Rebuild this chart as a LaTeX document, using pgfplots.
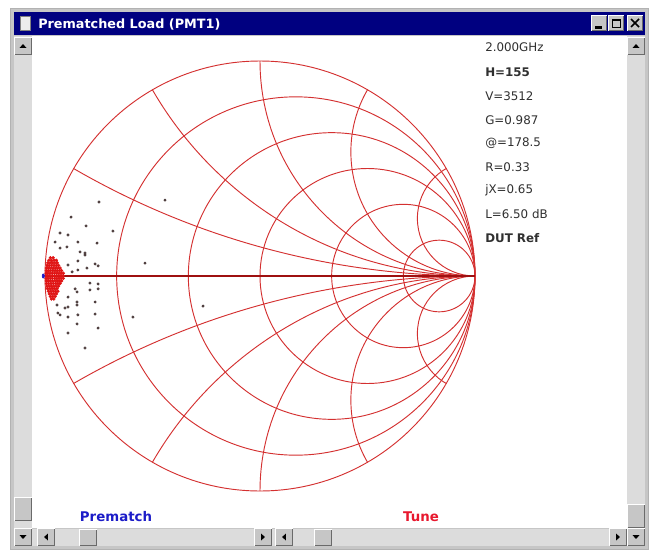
\documentclass[border=0pt]{standalone}
\usepackage{pgfplots}
\pgfplotsset{compat=1.18}
\usepackage{fontspec}
\setmainfont{DejaVu Sans}

\definecolor{titlebar}{HTML}{000080}
\definecolor{gridred}{HTML}{D43030}
\definecolor{axisred}{HTML}{9E1010}
\definecolor{face}{HTML}{C6C6C6}
\definecolor{track}{HTML}{DCDCDC}
\definecolor{shadow}{HTML}{6A6A6A}
\definecolor{dotdark}{HTML}{4A3A3A}
\definecolor{dotred}{HTML}{E01414}
\definecolor{prematch}{HTML}{1C1CC8}
\definecolor{tune}{HTML}{E8182E}
\definecolor{readout}{HTML}{303030}

% raised 3D button, given top-left and bottom-right corners (pixel units, y down)
\newcommand\btnbox[4]{%
  \fill[face] (#1,#2) rectangle (#3,#4);
  \draw[white, line width=0.75pt] (#1+0.5,#4-0.5) -- (#1+0.5,#2+0.5) -- (#3-0.5,#2+0.5);
  \draw[shadow, line width=0.75pt] (#1+0.5,#4-0.5) -- (#3-0.5,#4-0.5) -- (#3-0.5,#2+0.5);}
% scroll arrow button centred at (#1,#2), arrow rotated by #3
\newcommand\arrowbtn[3]{%
  \btnbox{#1-9}{#2-9}{#1+9}{#2+9}
  \begin{scope}[shift={(#1,#2)}, rotate=#3]
    \fill[black] (-3.5,1.8) -- (3.5,1.8) -- (0,-1.8) -- cycle;
  \end{scope}}

\begin{document}
\begin{tikzpicture}[x=0.75pt, y=-0.75pt]
% page and window frame
\fill[white] (0,0) rectangle (657,550);
\fill[face] (10,8) rectangle (648,549);
\draw[gray!60] (10,8) rectangle (648,549);
\fill[titlebar] (14,12) rectangle (645,35);
\fill[white] (32,36) rectangle (627,528);

% title bar
\fill[white!85!gray] (20,16) rectangle (30,30);
\draw[gray] (20,16) rectangle (30,30);
\node[anchor=west, text=white, inner sep=0pt, font=\bfseries\fontsize{9.6}{11}\selectfont] at (38,24) {Prematched Load (PMT1)};
\btnbox{591}{15}{607}{31}
\fill[black] (595,26) rectangle (602,28.5);
\btnbox{608}{15}{624}{31}
\draw[black, line width=0.75pt] (612,19) rectangle (620,27);
\fill[black] (612,19) rectangle (620,21);
\btnbox{627}{15}{643}{31}
\draw[black, line width=1.2pt] (631,19) -- (639,27) (639,19) -- (631,27);

% vertical scroll bars
\fill[track] (14,36) rectangle (32,528);
\fill[track] (627,36) rectangle (645,528);
\arrowbtn{23}{46}{0}
\arrowbtn{636}{46}{0}
\btnbox{14}{497}{32}{521}
\btnbox{627}{504}{645}{528}

% horizontal scroll bars
\fill[track] (32,529) rectangle (627,546);
\arrowbtn{23}{537}{180}
\arrowbtn{46}{537}{90}
\btnbox{79}{529}{97}{546}
\arrowbtn{263}{537}{-90}
\arrowbtn{284}{537}{90}
\btnbox{314}{529}{332}{546}
\arrowbtn{618}{537}{-90}
\arrowbtn{636}{537}{180}

% bottom labels
\node[text=prematch, font=\bfseries\fontsize{10}{12}\selectfont] at (116,517) {Prematch};
\node[text=tune, font=\bfseries\fontsize{10}{12}\selectfont] at (421,517) {Tune};

% readout column
\begin{scope}[every node/.style={anchor=west, inner sep=0pt, text=readout, font=\fontsize{8.9}{10}\selectfont}]
\node at (485,47)  {2.000GHz};
\node[font=\bfseries\fontsize{8.9}{10}\selectfont] at (485,72)  {H=155};
\node at (485,96)  {V=3512};
\node at (485,120) {G=0.987};
\node at (485,143) {@=178.5};
\node at (485,167) {R=0.33};
\node at (485,190) {jX=0.65};
\node at (485,214) {L=6.50 dB};
\node[font=\bfseries\fontsize{8.9}{10}\selectfont] at (485,238) {DUT Ref};
\end{scope}

% Smith chart grid: unit circle at (260,276), radius 215 px
\begin{scope}[gridred, line width=0.7pt]
  % constant resistance circles r = 0.2, 0.5, 1, 2, 5
  \draw (295.83,276) circle[radius=179.17];
  \draw (331.67,276) circle[radius=143.33];
  \draw (367.5,276)  circle[radius=107.5];
  \draw (403.33,276) circle[radius=71.67];
  \draw (439.17,276) circle[radius=35.83];
  % constant reactance arcs meeting the rim every 30 degrees
  \begin{scope}
    \clip (260,276) circle[radius=215];
    \draw (475,-526.41) circle[radius=802.41];
    \draw (475,1078.41) circle[radius=802.41];
    \draw (475,-96.39)  circle[radius=372.39];
    \draw (475,648.39)  circle[radius=372.39];
    \draw (475,61)      circle[radius=215];
    \draw (475,491)     circle[radius=215];
    \draw (475,151.87)  circle[radius=124.13];
    \draw (475,400.13)  circle[radius=124.13];
    \draw (475,218.39)  circle[radius=57.61];
    \draw (475,333.61)  circle[radius=57.61];
  \end{scope}
  \draw (260,276) circle[radius=215];
\end{scope}
\draw[axisred, line width=1.3pt] (45,276) -- (475,276);

% measured reflection coefficients (Gamma plane), centred on the chart
\begin{scope}[x=1cm, y=1cm]
\begin{axis}[at={(195pt,-207pt)}, anchor=origin, scale only axis,
  width=322.5pt, height=322.5pt,
  xmin=-1, xmax=1, ymin=-1, ymax=1, hide axis, clip=false]
\addplot[only marks, mark=*, mark size=0.9pt, color=dotdark] coordinates {
(-0.749,0.344) (-0.442,0.353) (-0.879,0.274) (-0.809,0.233) (-0.684,0.209)
(-0.930,0.200) (-0.893,0.191) (-0.847,0.158) (-0.758,0.153) (-0.953,0.158)
(-0.930,0.130) (-0.814,0.107) (-0.847,0.070) (-0.753,0.047) (-0.805,0.037)
(-0.535,0.060) (-0.893,0.051) (-0.874,0.019) (-0.847,0.028) (-0.767,0.056)
(-0.753,-0.060) (-0.791,-0.033) (-0.860,-0.060) (-0.893,-0.098) (-0.851,-0.135)
(-0.767,-0.177) (-0.847,-0.181) (-0.940,-0.172) (-0.907,-0.149) (-0.851,-0.223)
(-0.753,-0.242) (-0.893,-0.265) (-0.814,-0.335) (-0.591,-0.191) (-0.265,-0.140)
(-0.753,-0.037) (-0.791,-0.065) (-0.851,-0.074) (-0.767,-0.121) (-0.851,-0.121)
(-0.893,-0.144) (-0.944,-0.135) (-0.930,-0.181) (-0.893,-0.191)
(-0.898,0.135) (-0.837,0.112) (-0.814,0.098)
};
\addplot[only marks, mark=*, mark size=1.05pt, color=dotred] coordinates {
(-0.975,0.085) (-0.962,0.085)
(-0.982,0.073) (-0.970,0.073) (-0.958,0.073) (-0.947,0.073)
(-0.987,0.061) (-0.976,0.061) (-0.965,0.061) (-0.954,0.061) (-0.943,0.061)
(-0.990,0.049) (-0.980,0.049) (-0.969,0.049) (-0.958,0.049) (-0.947,0.049) (-0.937,0.049)
(-0.993,0.037) (-0.983,0.037) (-0.972,0.037) (-0.961,0.037) (-0.950,0.037) (-0.940,0.037) (-0.930,0.037)
(-0.994,0.025) (-0.985,0.025) (-0.975,0.025) (-0.964,0.025) (-0.953,0.025) (-0.943,0.025) (-0.933,0.025) (-0.923,0.025)
(-0.995,0.013) (-0.987,0.013) (-0.977,0.013) (-0.966,0.013) (-0.955,0.013) (-0.945,0.013) (-0.935,0.013) (-0.925,0.013) (-0.915,0.013)
(-0.996,0.001) (-0.987,0.001) (-0.977,0.001) (-0.967,0.001) (-0.956,0.001) (-0.946,0.001) (-0.936,0.001) (-0.926,0.001) (-0.916,0.001)
(-0.995,-0.011) (-0.986,-0.011) (-0.976,-0.011) (-0.966,-0.011) (-0.955,-0.011) (-0.945,-0.011) (-0.935,-0.011) (-0.925,-0.011) (-0.915,-0.011)
(-0.994,-0.023) (-0.985,-0.023) (-0.975,-0.023) (-0.964,-0.023) (-0.953,-0.023) (-0.943,-0.023) (-0.933,-0.023) (-0.923,-0.023)
(-0.993,-0.035) (-0.983,-0.035) (-0.972,-0.035) (-0.961,-0.035) (-0.950,-0.035) (-0.940,-0.035) (-0.930,-0.035)
(-0.991,-0.047) (-0.981,-0.047) (-0.970,-0.047) (-0.959,-0.047) (-0.948,-0.047) (-0.937,-0.047)
(-0.988,-0.059) (-0.977,-0.059) (-0.966,-0.059) (-0.955,-0.059) (-0.944,-0.059)
(-0.984,-0.071) (-0.973,-0.071) (-0.962,-0.071) (-0.951,-0.071) (-0.940,-0.071)
(-0.980,-0.083) (-0.969,-0.083) (-0.958,-0.083) (-0.947,-0.083)
(-0.975,-0.095) (-0.964,-0.095) (-0.953,-0.095)
(-0.970,-0.107) (-0.959,-0.107)
};
\addplot[only marks, mark=*, mark size=1.6pt, color=prematch, mark options={xscale=0.55}] coordinates {(-1.008,0)};
\end{axis}
\end{scope}
\end{tikzpicture}
\end{document}
